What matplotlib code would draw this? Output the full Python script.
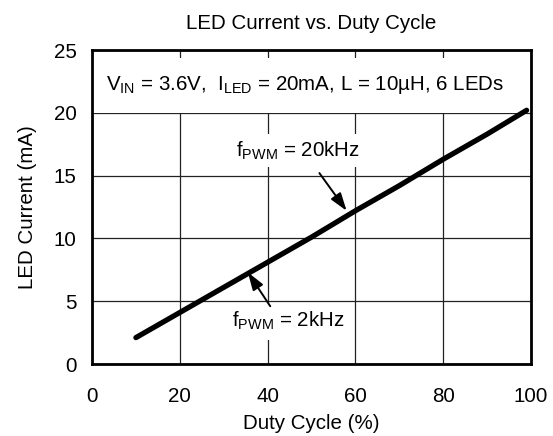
import matplotlib
matplotlib.use("Agg")
import matplotlib.pyplot as plt

plt.rcParams["font.family"] = ["Liberation Sans", "DejaVu Sans"]
plt.rcParams["mathtext.fontset"] = "custom"
plt.rcParams["mathtext.rm"] = "Liberation Sans"

duty = [10, 20, 30, 40, 50, 60, 70, 80, 90, 99]
current = [2.1, 4.1, 6.1, 8.1, 10.1, 12.2, 14.2, 16.3, 18.3, 20.2]

x_ticks = [0, 20, 40, 60, 80, 100]
y_ticks = [0, 5, 10, 15, 20, 25]

title = "LED Current vs. Duty Cycle"
cond_label = r"$\mathregular{V_{IN}}$ = 3.6V,  $\mathregular{I_{LED}}$ = 20mA, L = 10µH, 6 LEDs"
label_20k = r"$\mathregular{f_{PWM}}$ = 20kHz"
label_2k = r"$\mathregular{f_{PWM}}$ = 2kHz"

fs = 14.8

fig = plt.figure(figsize=(5.53, 4.36), dpi=100)
ax = fig.add_axes([92 / 553, 72 / 436, 439 / 553, 314 / 436])

ax.plot(duty, current, color="black", lw=3.8, solid_capstyle="round", zorder=4)

ax.set_xlim(0, 100)
ax.set_ylim(0, 25)
ax.set_xticks(x_ticks)
ax.set_yticks(y_ticks)
ax.tick_params(length=0, labelsize=fs)
ax.tick_params(axis="x", pad=16.5)
ax.tick_params(axis="y", pad=11)
ax.grid(True, color="#222222", lw=0.9)
ax.set_axisbelow(True)
for sp in ax.spines.values():
    sp.set_linewidth(2)
    sp.set_zorder(6)

ax.set_title(title, fontsize=fs, pad=15)
ax.set_xlabel("Duty Cycle (%)", fontsize=fs, labelpad=6)
ax.set_ylabel("LED Current (mA)", fontsize=fs, labelpad=12)

box = dict(boxstyle="square,pad=0.8", fc="white", ec="none")
ax.text(3.2, 22.2, cond_label, fontsize=fs, ha="left", va="center", bbox=box, zorder=3)
ax.text(47, 17.0, label_20k, fontsize=fs, ha="center", va="center",
        bbox=dict(boxstyle="square,pad=0.25", fc="white", ec="none"), zorder=3)
ax.text(44.8, 3.4, label_2k, fontsize=fs, ha="center", va="center",
        bbox=dict(boxstyle="square,pad=0.35", fc="white", ec="none"), zorder=3)

arrow = dict(arrowstyle="-|>,head_length=0.9,head_width=0.3", color="black",
             lw=1.4, mutation_scale=12, shrinkA=0, shrinkB=0)
ax.annotate("", xy=(58, 12.2), xytext=(51.8, 15.2), arrowprops=arrow, zorder=5)
ax.annotate("", xy=(35.5, 7.3), xytext=(40.6, 4.6), arrowprops=arrow, zorder=5)

fig.savefig("out.png", dpi=100)
